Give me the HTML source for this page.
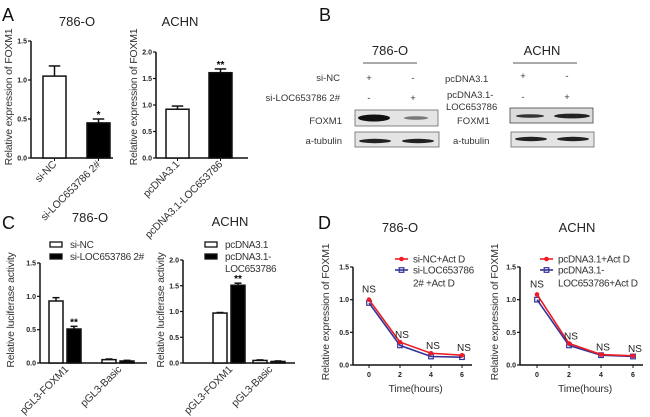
<!DOCTYPE html>
<html><head><meta charset="utf-8"><style>
html,body{margin:0;padding:0;background:#fff;}
svg{display:block;font-family:"Liberation Sans",Arial,sans-serif;}
.tk{font-size:7px;font-weight:bold;fill:#222;}
.al{font-size:10.5px;fill:#333;letter-spacing:-0.2px;}
.tt{font-size:13px;fill:#222;}
.lg{font-size:10px;fill:#333;letter-spacing:-0.3px;}
.pl{font-size:18px;fill:#111;}
</style></head><body>
<svg id="fig" width="650" height="417" viewBox="0 0 650 417" xmlns="http://www.w3.org/2000/svg">
<text class="pl" x="2" y="21">A</text>
<text class="pl" x="319" y="21">B</text>
<text class="pl" x="2" y="229">C</text>
<text class="pl" x="318" y="229">D</text>

<g font-size="9.5" fill="#333">
<text class="tt" x="390" y="55" text-anchor="middle">786-O</text>
<line x1="363" y1="63" x2="417" y2="63" stroke="#555" stroke-width="1"/>
<text x="340" y="81" text-anchor="end">si-NC</text>
<text x="340" y="101" text-anchor="end">si-LOC653786 2#</text>
<text x="369" y="81" text-anchor="middle">+</text><text x="413" y="81" text-anchor="middle">-</text>
<text x="369" y="101" text-anchor="middle">-</text><text x="413" y="101" text-anchor="middle">+</text>
<text x="342" y="124" text-anchor="end">FOXM1</text>
<text x="342" y="144" text-anchor="end">a-tubulin</text>
<rect x="355" y="110" width="83" height="16" fill="#e4e4e4" stroke="#666" stroke-width="0.8"/>
<ellipse cx="374" cy="118" rx="16" ry="3.5" fill="#111"/>
<ellipse cx="416" cy="118" rx="12" ry="1.8" fill="#777"/>
<rect x="355" y="132" width="84" height="15" fill="#e4e4e4" stroke="#666" stroke-width="0.8"/>
<ellipse cx="375" cy="141" rx="16" ry="2.2" fill="#222"/>
<ellipse cx="418" cy="141" rx="16" ry="2.2" fill="#222"/>

<text class="tt" x="542" y="55" text-anchor="middle">ACHN</text>
<line x1="513" y1="63" x2="577" y2="63" stroke="#555" stroke-width="1"/>
<text x="445" y="82">pcDNA3.1</text>
<text x="447" y="98">pcDNA3.1-</text>
<text x="446" y="110">LOC653786</text>
<text x="457" y="124">FOXM1</text>
<text x="453" y="144">a-tubulin</text>
<text x="523" y="79" text-anchor="middle">+</text><text x="567" y="79" text-anchor="middle">-</text>
<text x="523" y="100" text-anchor="middle">-</text><text x="567" y="100" text-anchor="middle">+</text>
<rect x="510" y="108" width="83" height="15" fill="#dcdcdc" stroke="#444" stroke-width="0.8"/>
<ellipse cx="530" cy="116" rx="14" ry="1.8" fill="#333"/>
<ellipse cx="572" cy="116" rx="18" ry="2.4" fill="#222"/>
<rect x="511" y="132" width="83" height="15" fill="#e4e4e4" stroke="#666" stroke-width="0.8"/>
<ellipse cx="531" cy="139" rx="16" ry="2.2" fill="#222"/>
<ellipse cx="573" cy="139" rx="16" ry="2.2" fill="#222"/>
</g>
<g id="charts"></g>
</svg>
<script>
// ---- Panel A data ----
const aLeftCats = ["si-NC", "si-LOC653786 2#"];
const aLeftVals = [1.05, 0.45];
const aLeftErr = [0.13, 0.05];
const aLeftSig = ["", "*"];
const aLeftTicks = ["0.0", "0.5", "1.0", "1.5"];
const aRightCats = ["pcDNA3.1", "pcDNA3.1-LOC653786"];
const aRightVals = [0.92, 1.61];
const aRightErr = [0.06, 0.07];
const aRightSig = ["", "**"];
const aRightTicks = ["0.0", "0.5", "1.0", "1.5", "2.0"];
// ---- Panel C data ----
const cGroups = ["pGL3-FOXM1", "pGL3-Basic"];
const cLeftWhite = [0.93, 0.05];
const cLeftBlack = [0.51, 0.03];
const cLeftWhiteErr = [0.05, 0.01];
const cLeftBlackErr = [0.04, 0.01];
const cLeftTicks = ["0.0", "0.5", "1.0", "1.5"];
const cRightWhite = [0.97, 0.05];
const cRightBlack = [1.51, 0.03];
const cRightWhiteErr = [0.01, 0.01];
const cRightBlackErr = [0.04, 0.01];
const cRightTicks = ["0.0", "0.5", "1.0", "1.5", "2.0"];
// ---- Panel D data ----
const dTimes = [0, 2, 4, 6];
const dLeftRed = [1.0, 0.35, 0.18, 0.15];
const dLeftBlue = [0.95, 0.30, 0.13, 0.12];
const dRightRed = [1.08, 0.33, 0.16, 0.14];
const dRightBlue = [1.0, 0.30, 0.15, 0.13];
const dYTicks = ["0.0", "0.5", "1.0", "1.5"];
const dXTicks = ["0", "2", "4", "6"];

const NS = "http://www.w3.org/2000/svg";
const root = document.getElementById('charts');
function mk(tag, attrs, parent, txt){
  const e = document.createElementNS(NS, tag);
  for (const k in attrs) e.setAttribute(k, attrs[k]);
  if (txt !== undefined) e.textContent = txt;
  (parent || root).appendChild(e);
  return e;
}
function yScale(y0, y1, vmax){ return v => y0 - (v / vmax) * (y0 - y1); }

function axisY(g, x, ys, ticks, vmax, label, lx, ly){
  const y0 = ys(0), y1 = ys(vmax);
  mk('line', {x1:x, y1:y0, x2:x, y2:y1, stroke:'#111', 'stroke-width':1.5}, g);
  ticks.forEach(t => {
    const y = ys(parseFloat(t));
    mk('line', {x1:x-3, y1:y, x2:x, y2:y, stroke:'#111', 'stroke-width':1.2}, g);
    mk('text', {class:'tk', x:x-4, y:y+2.5, 'text-anchor':'end'}, g, t);
  });
  const yl = mk('text', {class:'al', x:lx, y:ly, 'text-anchor':'middle', transform:`rotate(-90 ${lx} ${ly})`}, g, label);
  
  
}
function bar(g, x, w, ys, v, err, fill, name){
  const r = mk('rect', {x:x, y:ys(v), width:w, height:ys(0)-ys(v), fill:fill, stroke:'#111', 'stroke-width':1.5}, g);
  
  
  const cx = x + w/2, ye = ys(v+err);
  mk('line', {x1:cx, y1:ys(v), x2:cx, y2:ye, stroke:'#111', 'stroke-width':1.5}, g);
  mk('line', {x1:cx-w/4, y1:ye, x2:cx+w/4, y2:ye, stroke:'#111', 'stroke-width':1.5}, g);
  return ye;
}
function rotLabel(g, x, y, t){
  const e = mk('text', {class:'al', x:x, y:y, 'text-anchor':'end', transform:`rotate(-45 ${x} ${y})`, 'font-size':'10'}, g, t);
  
  
}

// Panel A
function panelA(cfg){
  const g = mk('g', {});
  
  
  const ys = yScale(158, cfg.ytop, cfg.vmax);
  mk('text', {class:'tt', x:cfg.tx, y:26, 'text-anchor':'middle'}, g, cfg.title);
  axisY(g, cfg.ax, ys, cfg.ticks, cfg.vmax, 'Relative expression of FOXM1', cfg.lx, 97);
  mk('line', {x1:cfg.ax, y1:158, x2:cfg.xend, y2:158, stroke:'#111', 'stroke-width':1.5}, g);
  cfg.cats.forEach((c, i) => {
    const x = cfg.bx[0] + i * cfg.step;
    const ye = bar(g, x, 23, ys, cfg.vals[i], cfg.err[i], i ? '#000' : '#fff', 'bar-' + c.toLowerCase().replace(/[^a-z0-9]+/g,'-'));
    if (cfg.sig[i]) mk('text', {x:x+11.5, y:ye-1, 'text-anchor':'middle', 'font-size':'10', 'font-weight':'bold'}, g, cfg.sig[i]);
    mk('line', {x1:x+11.5, y1:158, x2:x+11.5, y2:161, stroke:'#111'}, g);
    rotLabel(g, x+14, 165, c);
  });
}
panelA({name:'chart-a-786o', title:'786-O', tx:77, ax:31, ytop:41, vmax:1.5, ticks:aLeftTicks, lx:12, xend:113, bx:[43], step:44, cats:aLeftCats, vals:aLeftVals, err:aLeftErr, sig:aLeftSig});
panelA({name:'chart-a-achn', title:'ACHN', tx:180, ax:156, ytop:52, vmax:2.0, ticks:aRightTicks, lx:137, xend:248, bx:[166], step:43, cats:aRightCats, vals:aRightVals, err:aRightErr, sig:aRightSig});

// Panel C
function panelC(cfg){
  const g = mk('g', {});
  
  
  const ys = yScale(363, cfg.ytop, cfg.vmax);
  mk('text', {class:'tt', x:cfg.tx, y:cfg.ty, 'text-anchor':'middle'}, g, cfg.title);
  axisY(g, cfg.ax, ys, cfg.ticks, cfg.vmax, 'Relative luciferase activity', cfg.lx, 310);
  mk('line', {x1:cfg.ax, y1:363, x2:cfg.xend, y2:363, stroke:'#111', 'stroke-width':1.5}, g);
  cGroups.forEach((c, i) => {
    const x = cfg.gx + i * cfg.gstep;
    bar(g, x, 14, ys, cfg.white[i], cfg.wErr[i], '#fff', 'bar-white-' + c.toLowerCase());
    const ye = bar(g, x+18, 14, ys, cfg.black[i], cfg.bErr[i], '#000', 'bar-black-' + c.toLowerCase());
    if (i === 0) mk('text', {x:x+25, y:ye-1, 'text-anchor':'middle', 'font-size':'10', 'font-weight':'bold'}, g, '**');
    rotLabel(g, x+20, 370, c);
  });
  cfg.legend.forEach((l, i) => {
    const r = mk('rect', {x:cfg.lgx, y:242+i*12, width:12, height:5, fill:i ? '#000' : '#fff', stroke:'#111', 'stroke-width':1.3}, g);
    
    
    l.forEach((t, j) => mk('text', {class:'lg', x:cfg.lgx+20, y:248+i*12+j*12}, g, t));
  });
}
panelC({name:'chart-c-786o', title:'786-O', tx:90, ty:222, ax:40, ytop:263, vmax:1.5, ticks:cLeftTicks, lx:14, xend:147, gx:49, gstep:53, white:cLeftWhite, black:cLeftBlack, wErr:cLeftWhiteErr, bErr:cLeftBlackErr, lgx:50, legend:[['si-NC'],['si-LOC653786 2#']]});
panelC({name:'chart-c-achn', title:'ACHN', tx:230, ty:226, ax:183, ytop:260, vmax:2.0, ticks:cRightTicks, lx:164, xend:295, gx:213, gstep:40, white:cRightWhite, black:cRightBlack, wErr:cRightWhiteErr, bErr:cRightBlackErr, lgx:205, legend:[['pcDNA3.1'],['pcDNA3.1-','LOC653786']]});

// Panel D
function panelD(cfg){
  const g = mk('g', {});
  
  
  const ys = yScale(365, 267, 1.5);
  const xs = t => cfg.x0 + (t / 6) * (cfg.x6 - cfg.x0);
  mk('text', {class:'tt', x:cfg.tx, y:232, 'text-anchor':'middle'}, g, cfg.title);
  axisY(g, cfg.ax, ys, dYTicks, 1.5, 'Relative expression of FOXM1', cfg.lx, 312);
  mk('line', {x1:cfg.ax, y1:365, x2:cfg.x6+10, y2:365, stroke:'#111', 'stroke-width':1.5}, g);
  dXTicks.forEach(t => {
    const x = xs(parseFloat(t));
    mk('line', {x1:x, y1:365, x2:x, y2:368, stroke:'#111'}, g);
    mk('text', {class:'tk', x:x, y:377, 'text-anchor':'middle'}, g, t);
  });
  mk('text', {class:'al', x:(cfg.x0+cfg.x6)/2, y:392, 'text-anchor':'middle'}, g, 'Time(hours)');
  [[cfg.blue, '#33339a', 'line-blue'], [cfg.red, '#ee1c24', 'line-red']].forEach(([vals, col, nm]) => {
    const p = mk('polyline', {points: dTimes.map((t, i) => xs(t) + ',' + ys(vals[i])).join(' '), fill:'none', stroke:col, 'stroke-width':1.6}, g);
    
    
    dTimes.forEach((t, i) => {
      if (col === '#ee1c24') mk('circle', {cx:xs(t), cy:ys(vals[i]), r:2.3, fill:col}, g);
      else mk('rect', {x:xs(t)-2.3, y:ys(vals[i])-2.3, width:4.6, height:4.6, fill:'none', stroke:col, 'stroke-width':1.2}, g);
    });
  });
  dTimes.forEach((t, i) => {
    const top = Math.max(cfg.red[i], cfg.blue[i]);
    mk('text', {x:xs(t)+(i?2:0), y:ys(top)-(i?4:7), 'text-anchor':'middle', 'font-size':'10', fill:'#222'}, g, 'NS');
  });
  [['#ee1c24', cfg.legend[0]], ['#33339a', cfg.legend[1]]].forEach(([col, lines], i) => {
    const y = 259 + i*11;
    mk('line', {x1:cfg.lgx, y1:y, x2:cfg.lgx+13, y2:y, stroke:col, 'stroke-width':1.6}, g);
    if (i === 0) mk('circle', {cx:cfg.lgx+6.5, cy:y, r:2.3, fill:col}, g);
    else mk('rect', {x:cfg.lgx+4.2, y:y-2.3, width:4.6, height:4.6, fill:'none', stroke:col, 'stroke-width':1.2}, g);
    lines.forEach((t, j) => mk('text', {class:'lg', x:cfg.lgx+18, y:y+3.5+j*13}, g, t));
  });
}
panelD({name:'chart-d-786o', title:'786-O', tx:400, ax:353, lx:329, x0:369, x6:462, red:dLeftRed, blue:dLeftBlue, lgx:395, legend:[['si-NC+Act D'],['si-LOC653786','2# +Act D']]});
panelD({name:'chart-d-achn', title:'ACHN', tx:577, ax:520, lx:498, x0:537, x6:633, red:dRightRed, blue:dRightBlue, lgx:540, legend:[['pcDNA3.1+Act D'],['pcDNA3.1-','LOC653786+Act D']]});
</script>
</body></html>
